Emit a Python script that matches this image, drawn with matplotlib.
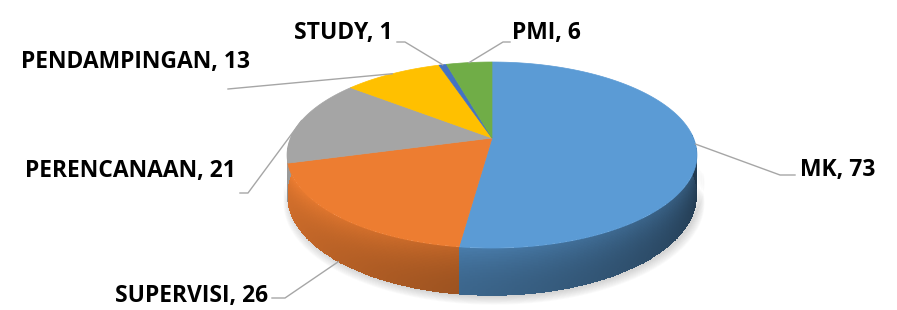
import numpy as np
import matplotlib
matplotlib.use("Agg")
import matplotlib.pyplot as plt
from matplotlib.colors import to_rgb

# data (clockwise from 12 o'clock)
labels = ["MK", "SUPERVISI", "PERENCANAAN", "PENDAMPINGAN", "STUDY", "PMI"]
values = [73, 26, 21, 13, 1, 6]
colors = ["#5B9BD5", "#ED7D31", "#A5A5A5", "#FFC000", "#4472C4", "#70AD47"]

# pie geometry in pixels (perspective disk)
CX, CY = 492, 138
RX, RY = 201.5, 89.9
K = 0.183          # perspective strength
H = 39.0           # side height


def project(t, drop=0.0):
    a, b = np.cos(t), np.sin(t)
    w = 1 + K * b
    return CX + RX * a / w, CY - RY * b / w + drop / w


def slice_of(t, bounds):
    for i, (t0, t1) in enumerate(bounds):
        lo, hi = min(t0, t1), max(t0, t1)
        for s in (t, t + 2 * np.pi, t - 2 * np.pi):
            if lo <= s <= hi:
                return i
    return 0


fig = plt.figure(figsize=(8.97, 3.10), dpi=100)
ax = fig.add_axes([0, 0, 1, 1])
ax.set_xlim(0, 897)
ax.set_ylim(310, 0)
ax.axis("off")

total = float(sum(values))
bounds = []
start = np.pi / 2
for v in values:
    end = start - 2 * np.pi * v / total
    bounds.append((start, end))
    start = end

# soft shadow under the front rim
for i in range(10):
    tt = np.linspace(np.pi * 1.05, np.pi * 1.97, 120)
    sx, sy = project(tt, H + 1 + i * 0.7)
    sx = CX + (sx - CX) * (1 + i * 0.003) + 2
    ax.fill(np.r_[sx, sx[::-1]], np.r_[sy, sy[::-1] - 20], color="#777777",
            alpha=0.03, lw=0, zorder=1)

# side wall as a quad mesh
ts = np.linspace(np.pi * 0.98, np.pi * 2.02, 500)
nsub = 30
d = np.linspace(0, H, nsub + 1)
TT, DD = np.meshgrid(ts, d)
X, Y = project(TT, DD)
C = np.zeros((nsub, len(ts) - 1, 3))
for j in range(len(ts) - 1):
    tm = 0.5 * (ts[j] + ts[j + 1])
    base = np.array(to_rgb(colors[slice_of(tm, bounds)]))
    deg = np.degrees(tm)
    f = np.clip(0.92 - (deg - 185) / 165 * 0.55, 0.37, 0.95)
    for k in range(nsub):
        hl = 0.14 * (1 - k / (nsub - 1)) ** 2
        C[k, j] = np.clip(base * (f + hl), 0, 1)
ax.pcolormesh(X, Y, C, shading="flat", antialiased=False, zorder=2)

# top face
for (t0, t1), c in zip(bounds, colors):
    tt = np.linspace(t0, t1, 200)
    px, py = project(tt)
    ax.fill(np.r_[CX, px], np.r_[CY, py], color=c, ec=c, lw=0.5, zorder=3)

# labels with leader lines
font = dict(family=["Open Sans", "DejaVu Sans"], weight="bold", size=16.5,
            color="black")
line_kw = dict(color="#A6A6A6", lw=1.0, zorder=4)
label_pos = {
    "MK": ((780, 175), (795, 175), (800, 170), "left"),
    "SUPERVISI": ((285, 298), (272, 298), (268, 296), "right"),
    "PERENCANAAN": ((248, 193), (240, 193), (236, 171), "right"),
    "PENDAMPINGAN": ((228, 89), (228, 89), (250, 62), "right"),
    "STUDY": ((405, 42), (397, 42), (393, 33), "right"),
    "PMI": ((503, 42), (510, 42), (512, 33), "left"),
}
for lab, v, (t0, t1) in zip(labels, values, bounds):
    tm = 0.5 * (t0 + t1)
    if np.sin(tm) < -0.3:
        axp, ayp = project(tm, H)
    else:
        axp, ayp = project(tm)
    elbow, end, tpos, ha = label_pos[lab]
    ax.plot([axp, elbow[0], end[0]], [ayp, elbow[1], end[1]], **line_kw)
    ax.text(tpos[0], tpos[1], f"{lab}, {v}", ha=ha, va="center", **font)

fig.savefig("out.png", dpi=100)
